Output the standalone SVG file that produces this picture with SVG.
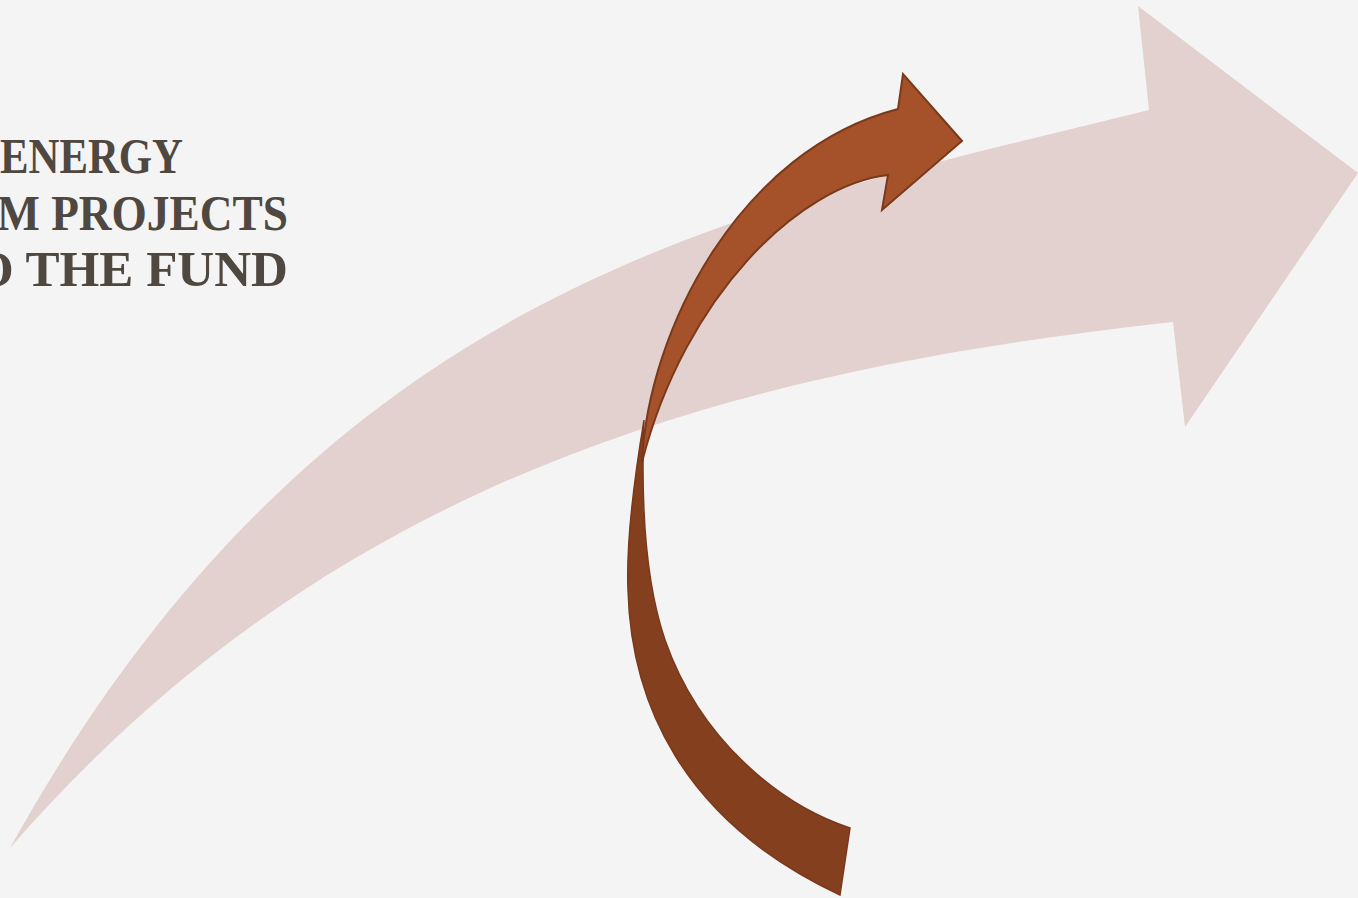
<svg xmlns="http://www.w3.org/2000/svg" width="1358" height="898" viewBox="0 0 1358 898">
  <style>
    .title { font-family: "Liberation Serif", "Times New Roman", serif; font-weight: bold; font-size: 50px; fill: #4F4840; }
    .pink { fill: #E2D1CF; }
    .dark { fill: #843F1F; stroke: #7A391B; stroke-width: 1.5; stroke-linejoin: miter; }
    .light { fill: #A5522A; stroke: #7A391B; stroke-width: 2; stroke-linejoin: miter; }
  </style>
  <rect x="0" y="0" width="1358" height="898" fill="#F5F4F4"/>
  <g id="title">
    <text class="title" x="0" y="173" textLength="183" lengthAdjust="spacingAndGlyphs">ENERGY</text>
    <text class="title" x="-3" y="230" textLength="291" lengthAdjust="spacingAndGlyphs">M PROJECTS</text>
    <text class="title" x="-26" y="286" textLength="314" lengthAdjust="spacingAndGlyphs">O THE FUND</text>
  </g>
  <g id="big-arrow">
    <path class="pink" d="M10,848 C330,272 749,210 1149,110 L1138,6 L1358,173 L1185,427 L1173,322 C723,371.5 330,480 10,848 Z"/>
  </g>
  <g id="curved-arrow">
    <path class="dark" d="M644,420 C634,480 626,540 628,590 C631,700 680,820 840,895 L850,828 C780,805 700,740 665,640 C648,590 640,520 644,420 Z"/>
    <path class="light" d="M642,462 C648,330 740,150 898,109 L903,74 L962,141 L882,210 L888,175 C800,185 685,295 642,462 Z"/>
  </g>
</svg>
